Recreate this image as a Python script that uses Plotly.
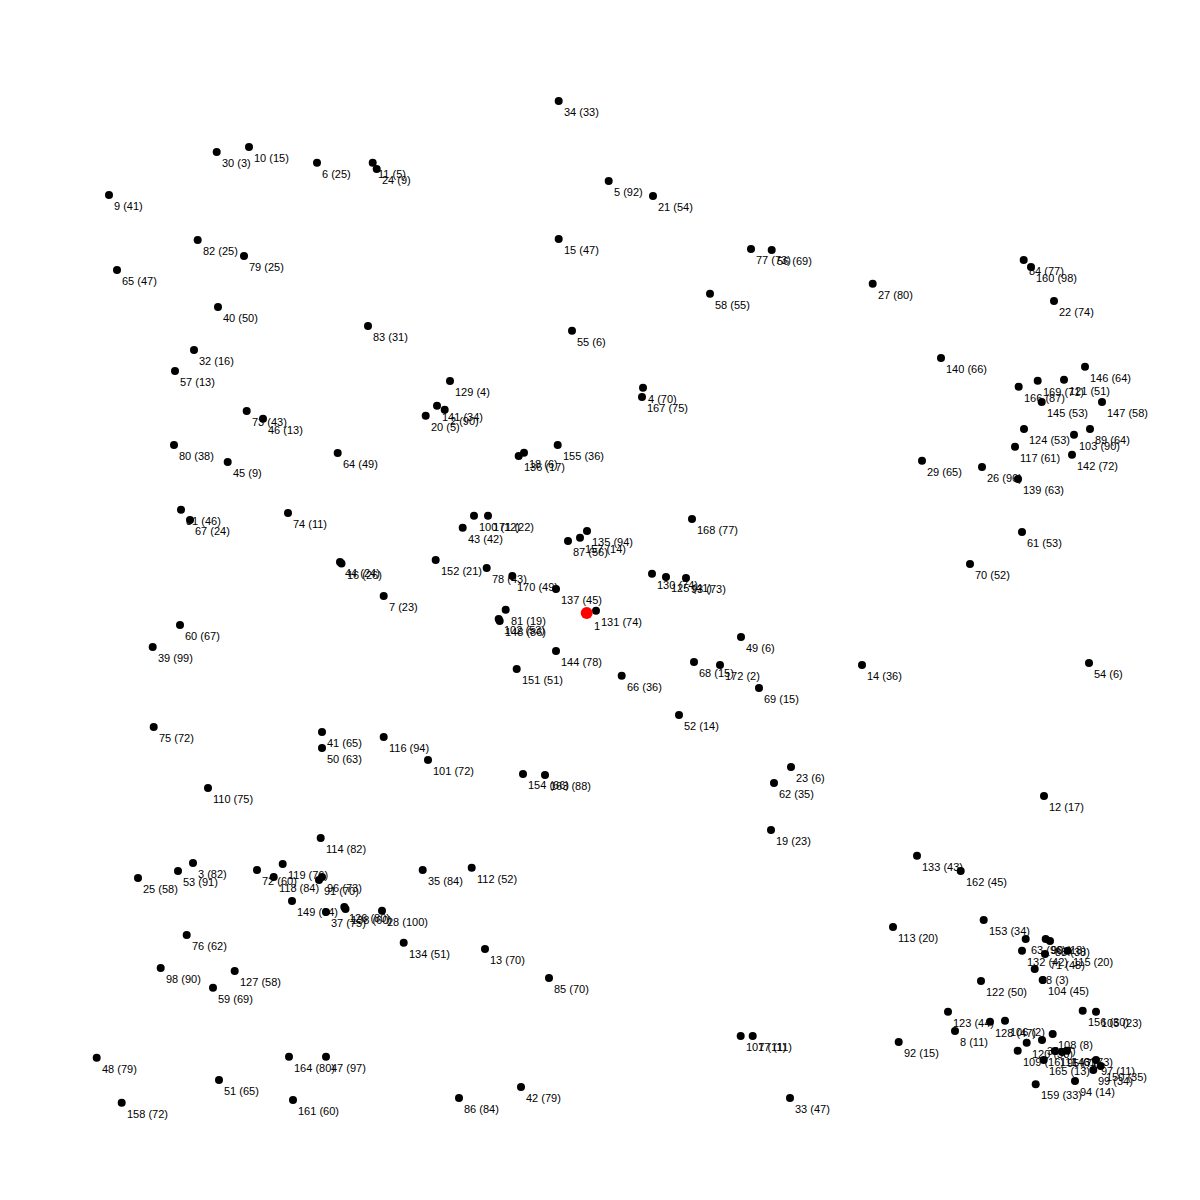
import plotly.graph_objects as go

# node ids, node values and layout positions (pixel-like layout coordinates, y downward)
node_ids = [30, 10, 6, 11, 24, 9, 82, 79, 65, 40, 83, 32, 57,
            34, 5, 21, 15, 77, 56, 58, 55, 129, 4, 167,
            84, 160, 27, 22, 140, 146, 169, 121, 166, 145, 147, 124, 89, 103, 117, 142, 29, 26, 139, 61, 70,
            73, 46, 80, 45, 64, 31, 67, 74, 44, 16, 7, 60, 39,
            141, 2, 20, 155, 18, 136, 100, 171, 43, 135, 87, 157, 152, 78, 170, 137, 131, 81, 102, 148,
            144, 151, 66, 168, 130, 125, 93, 49, 68, 172, 14, 54, 69, 52, 23, 62, 12, 19,
            75, 41, 50, 116, 101, 110, 114, 25, 53, 3, 72, 118, 119, 96, 91, 149, 37, 126, 138, 28,
            35, 112, 134, 76, 98, 127, 59,
            48, 158, 51, 164, 47, 161,
            154, 163, 13, 85, 107, 17, 86, 42, 33,
            133, 162, 153, 113, 63, 90, 88, 132, 71, 115, 38, 104, 122, 123, 8, 92, 128, 106, 108,
            36, 120, 109, 165, 111, 95, 143, 97, 150, 99, 94, 159, 156, 105]
node_values = [3, 15, 25, 5, 9, 41, 25, 25, 47, 50, 31, 16, 13,
               33, 92, 54, 47, 73, 69, 55, 6, 4, 70, 75,
               77, 98, 80, 74, 66, 64, 71, 51, 87, 53, 58, 53, 64, 90, 61, 72, 65, 96, 63, 53, 52,
               43, 13, 38, 9, 49, 46, 24, 11, 24, 26, 23, 67, 99,
               34, 90, 5, 36, 6, 17, 12, 22, 42, 94, 56, 14, 21, 43, 49, 45, 74, 19, 53, 86,
               78, 51, 36, 77, 74, 41, 73, 6, 15, 2, 36, 6, 15, 14, 6, 35, 17, 23,
               72, 65, 63, 94, 72, 75, 82, 58, 91, 82, 60, 84, 76, 73, 70, 64, 75, 80, 60, 100,
               84, 52, 51, 62, 90, 58, 69,
               79, 72, 65, 80, 97, 60,
               66, 88, 70, 70, 11, 11, 84, 79, 47,
               43, 45, 34, 20, 96, 18, 38, 42, 48, 20, 3, 45, 50, 44, 11, 15, 47, 2, 8,
               7, 30, 16, 13, 61, 7, 73, 11, 35, 34, 14, 33, 30, 23]
node_x = [216.7, 249, 317, 372.7, 376.7, 109, 197.7, 244, 117, 218, 368, 194, 175,
          558.7, 608.7, 653, 558.7, 751, 771.7, 710, 572, 450, 643, 642,
          1023.7, 1031, 872.7, 1054, 941, 1085, 1037.7, 1064, 1018.7, 1041.7, 1102, 1024, 1090, 1074, 1015, 1072, 922, 982, 1018, 1022, 970,
          246.7, 263, 174, 227.7, 337.7, 181, 190, 288, 340, 341.5, 383.7, 180, 152.7,
          437, 444.7, 425.7, 557.7, 524, 518.7, 474, 488, 462.7, 587, 568, 580, 435.7, 486.7, 512.3, 556, 596, 505.7, 498.7, 499.7,
          556, 516.7, 621.7, 692, 652, 666, 686, 741, 694, 720, 862, 1089, 759, 679, 791, 774, 1044, 771,
          153.7, 322, 322, 383.7, 428, 208, 320.7, 138, 178, 193, 257, 273.7, 282.7, 322, 319, 292, 326, 344.3, 345.5, 382,
          422.7, 471.7, 403.7, 186.7, 160.7, 234.7, 213,
          96.7, 121.7, 219, 289, 326, 293,
          523, 545, 485, 549, 740.7, 752.7, 459, 521, 790,
          917, 960.7, 983.7, 893, 1025.7, 1045.7, 1050, 1022, 1045, 1067.7, 1034.7, 1042.7, 981, 948, 955, 898.7, 990, 1005, 1052.7,
          1042, 1026.7, 1017.7, 1043.7, 1055, 1062, 1067, 1096, 1100.7, 1093.3, 1075, 1035.7, 1082.7, 1096]
node_y = [152, 147, 162.7, 162.7, 169, 195, 240, 256, 270, 307, 326, 350, 371,
          101, 181, 196, 239, 249, 250, 293.7, 330.7, 381, 387.7, 397,
          260, 267, 283.7, 301, 358, 366.7, 380.7, 379.7, 386.7, 402, 402, 429, 429, 434.7, 446.7, 454.7, 460.7, 467, 479, 532, 564,
          411, 418.7, 445, 462, 453, 509.7, 520, 513, 562, 563.5, 596, 625, 647,
          405.7, 409.7, 415.7, 445, 452.7, 456, 515.7, 515.7, 527.7, 531, 541, 537.7, 560, 568, 576, 589, 610.7, 609.7, 619, 621,
          651, 669, 675.7, 519, 573.7, 577, 578, 637, 662, 665, 665, 663, 688, 715, 767, 783, 796, 830,
          727, 732, 748, 737, 760, 788, 838, 878, 871, 863, 870, 877, 864, 877, 880, 901, 912, 907, 909, 910.7,
          870, 867.7, 942.7, 935, 968, 971, 987.7,
          1057.7, 1102.7, 1080, 1056.7, 1056.7, 1100,
          774, 775, 949, 978, 1036, 1036, 1098, 1087, 1098,
          855.7, 871, 920, 927, 939, 939, 941, 950.7, 954, 950.7, 969, 980, 981, 1011.7, 1031, 1042, 1021.7, 1020.7, 1034,
          1040, 1042.7, 1050.7, 1060, 1051, 1052, 1050.7, 1060, 1066, 1070, 1081, 1084.3, 1010.7, 1011.7]

focus_id = 1
focus_x = 586.7
focus_y = 613

labels = [f"{i} ({v})" for i, v in zip(node_ids, node_values)]

fig = go.Figure()
fig.add_trace(go.Scatter(
    x=node_x, y=node_y, mode="markers",
    marker=dict(size=8, color="black", line=dict(width=0)),
    hoverinfo="skip", showlegend=False,
))
fig.add_trace(go.Scatter(
    x=[focus_x], y=[focus_y], mode="markers",
    marker=dict(size=12, color="#ff0000", line=dict(width=0)),
    hoverinfo="skip", showlegend=False,
))

font = dict(family="Liberation Sans, Arial, sans-serif", size=11, color="black")
annotations = []
for x, y, t in zip(node_x, node_y, labels):
    annotations.append(dict(x=x, y=y, xref="x", yref="y", text=t, showarrow=False,
                            xanchor="left", yanchor="middle", xshift=3, yshift=-11, font=font))
annotations.append(dict(x=focus_x, y=focus_y, xref="x", yref="y", text=str(focus_id), showarrow=False,
                        xanchor="left", yanchor="middle", xshift=5, yshift=-13, font=font))

fig.update_layout(
    width=1200, height=1200,
    margin=dict(l=0, r=0, t=0, b=0),
    paper_bgcolor="white", plot_bgcolor="white",
    xaxis=dict(range=[0, 1200], visible=False, fixedrange=True),
    yaxis=dict(range=[1200, 0], visible=False, fixedrange=True),
    annotations=annotations,
)
fig.write_html("out.html")
